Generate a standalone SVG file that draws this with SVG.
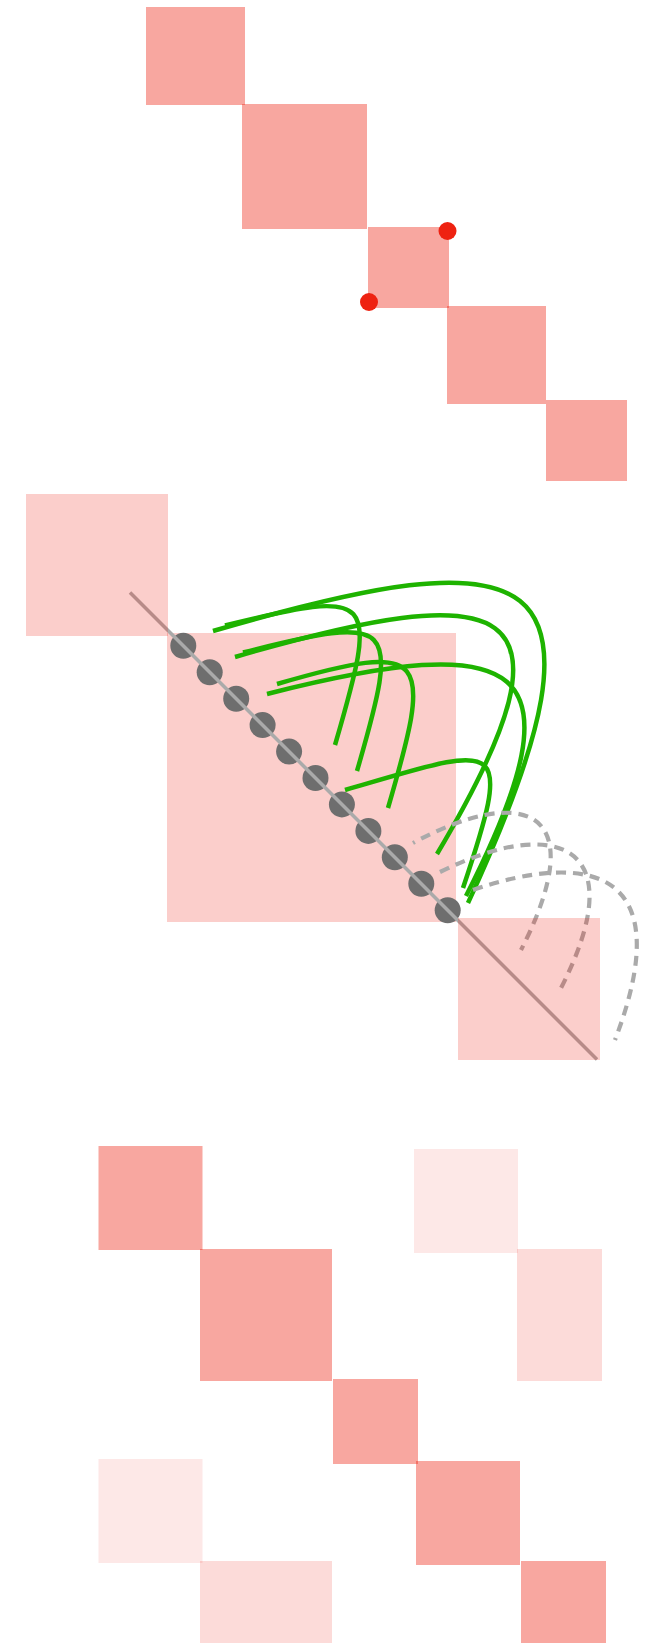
<svg xmlns="http://www.w3.org/2000/svg" width="650" height="1643" viewBox="0 0 650 1643">
<style>
.s{fill:rgba(238,34,17,0.4)}
.m{fill:rgba(238,34,17,0.22)}
.l1{fill:rgba(238,34,17,0.1)}
.l2{fill:rgba(238,34,17,0.16)}
.rd{fill:#ee2211}
.gd{fill:#6e6e6e}
.g{fill:none;stroke:#1eb300;stroke-width:4.5}
.d{fill:none;stroke:#aaaaaa;stroke-width:4.2;stroke-dasharray:10 7}
.ln{fill:none;stroke:#aaaaaa;stroke-width:3.5}
</style>
<rect width="650" height="1643" fill="#ffffff"/>
<g id="top-r1"><rect class="s" x="146" y="7" width="99" height="98"/></g>
<g id="top-r2"><rect class="s" x="242" y="104" width="125" height="125"/></g>
<g id="top-r3"><rect class="s" x="368" y="227" width="81" height="81"/></g>
<g id="top-r4"><rect class="s" x="447" y="306" width="99" height="98"/></g>
<g id="top-r5"><rect class="s" x="546" y="400" width="81" height="81"/></g>
<g id="red-dot-1"><circle class="rd" cx="447.5" cy="231" r="9"/></g>
<g id="red-dot-2"><circle class="rd" cx="369" cy="302" r="9"/></g>

<g id="mid-b"><rect class="m" x="167" y="633" width="289" height="289"/></g>
<g id="dots">
<circle class="gd" cx="183.3" cy="645.8" r="13"/>
<circle class="gd" cx="209.7" cy="672.2" r="13"/>
<circle class="gd" cx="236.2" cy="698.7" r="13"/>
<circle class="gd" cx="262.6" cy="725.1" r="13"/>
<circle class="gd" cx="289.1" cy="751.6" r="13"/>
<circle class="gd" cx="315.5" cy="778" r="13"/>
<circle class="gd" cx="341.9" cy="804.4" r="13"/>
<circle class="gd" cx="368.4" cy="830.9" r="13"/>
<circle class="gd" cx="394.8" cy="857.3" r="13"/>
<circle class="gd" cx="421.3" cy="883.8" r="13"/>
<circle class="gd" cx="447.7" cy="910.2" r="13"/>
</g>
<g id="connectors">
<path class="ln" d="M130,592.5 L597,1059.5"/>
<path class="g" d="M213,631 C529.8,538.6 630,553 468,903"/>
<path class="g" d="M225,625.5 C376.7,588 379.2,593.3 335,745"/>
<path class="g" d="M235,657 C503.8,578.6 592,593 437,854"/>
<path class="g" d="M243,652.5 C395.6,614 401.5,618.4 357,771"/>
<path class="g" d="M267,694 C520,630 587,658 466,896"/>
<path class="g" d="M277,684 C430.6,639.2 432.8,654.4 388,808"/>
<path class="g" d="M345,790 C501.5,744.4 515,733 463,888"/>
<path class="d" stroke-dashoffset="8" d="M413,843 C520,785 595,805 521,950"/>
<path class="d" d="M440,872 C557,814 635,845 560,990"/>
<path class="d" d="M473,890 C590,850 680,870 615,1040"/>
</g>
<g id="mid-a"><rect class="m" x="26" y="494" width="142" height="142"/></g>
<g id="mid-c"><rect class="m" x="458" y="918" width="142" height="142"/></g>

<g id="bot-r1"><rect class="s" x="98.5" y="1146" width="104" height="104"/></g>
<g id="bot-r2"><rect class="s" x="200" y="1249" width="132" height="132"/></g>
<g id="bot-r3"><rect class="s" x="333" y="1379" width="85" height="85"/></g>
<g id="bot-r4"><rect class="s" x="416" y="1461" width="104" height="104"/></g>
<g id="bot-r5"><rect class="s" x="521" y="1561" width="85" height="90"/></g>
<g id="bot-l1"><rect class="l1" x="414" y="1149" width="104" height="104"/></g>
<g id="bot-l2"><rect class="l2" x="517" y="1249" width="85" height="132"/></g>
<g id="bot-l3"><rect class="l1" x="98.5" y="1459" width="104" height="104"/></g>
<g id="bot-l4"><rect class="l2" x="200" y="1561" width="132" height="90"/></g>
</svg>
